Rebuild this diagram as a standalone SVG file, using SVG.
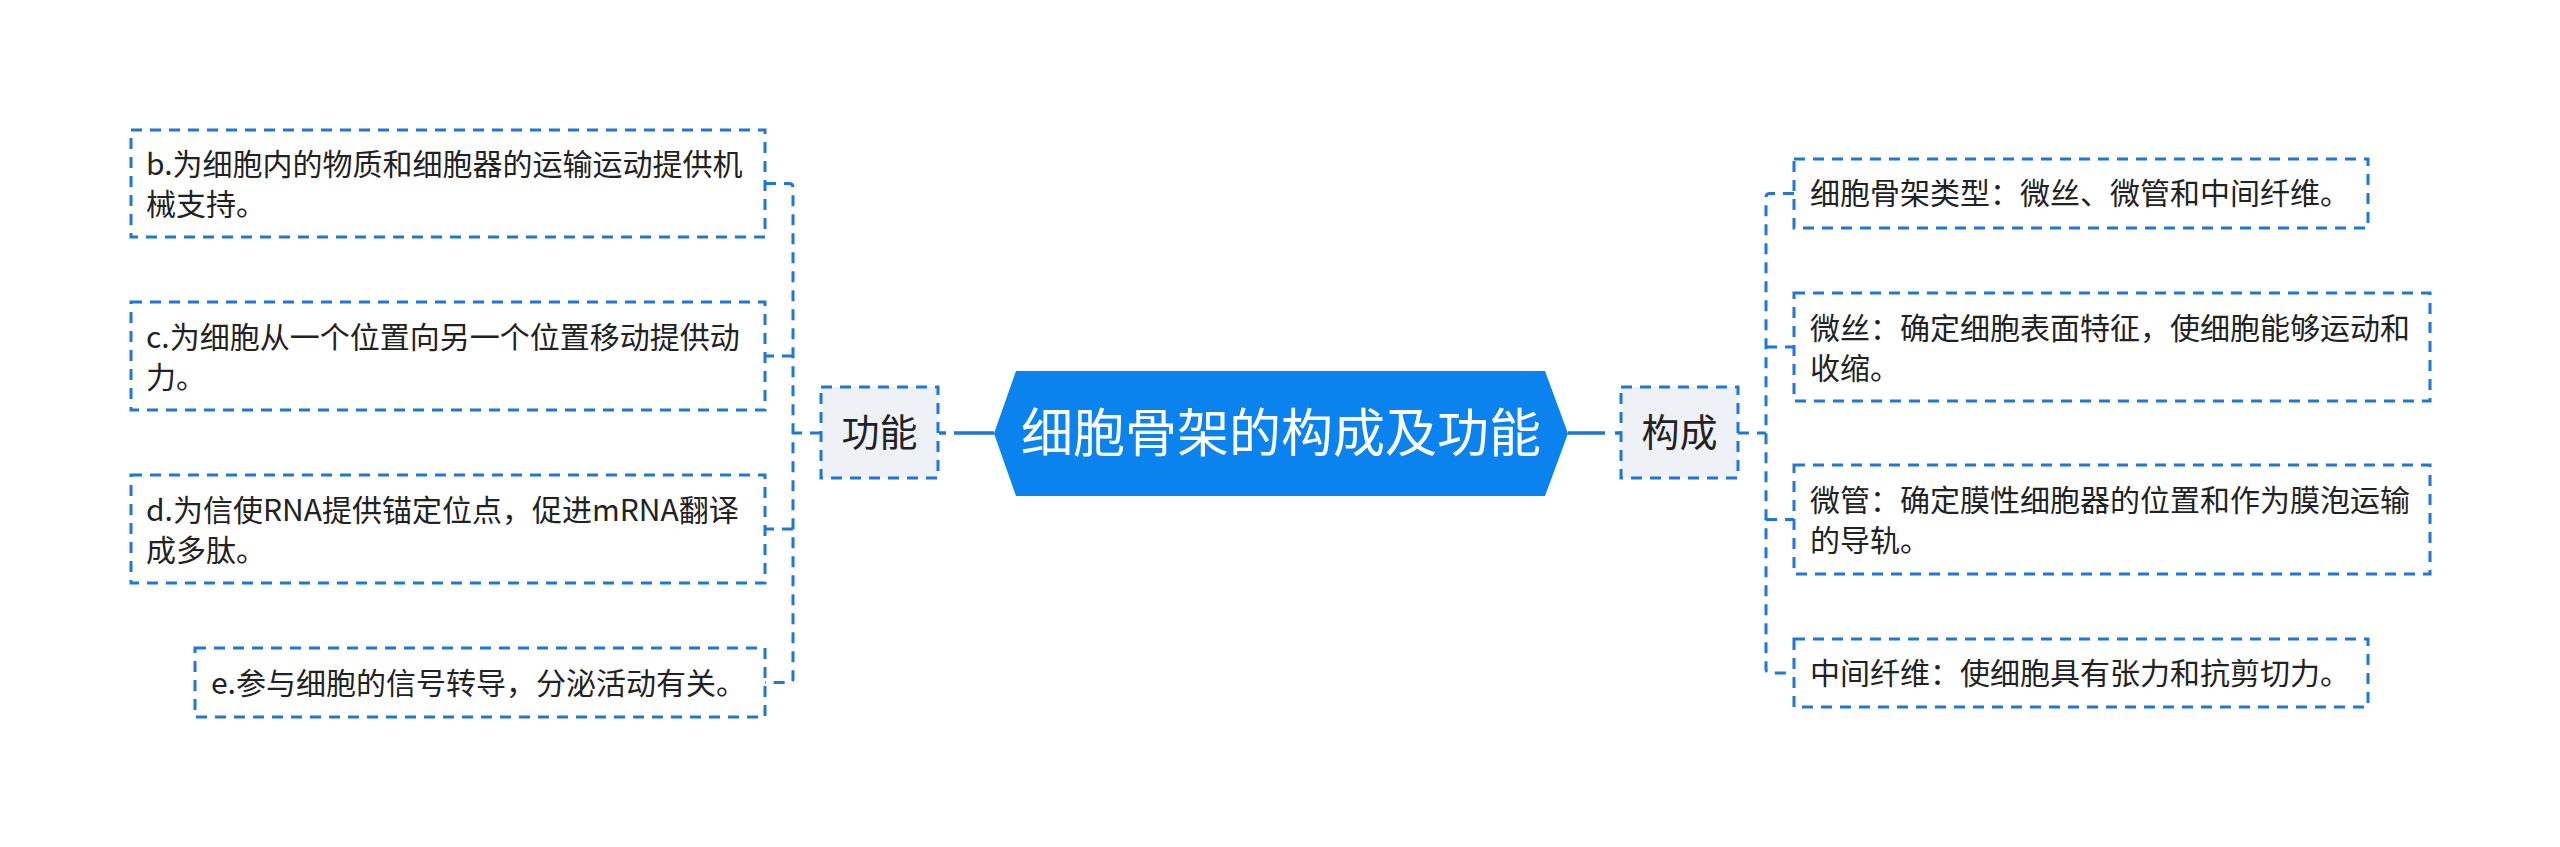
<svg xmlns="http://www.w3.org/2000/svg" width="2560" height="847" viewBox="0 0 2560 847">
<style>
.leaf{fill:#ffffff;stroke:#1f77d8;stroke-width:3;stroke-dasharray:11 8}
.hub{fill:#eef1f5;stroke:#1f77d8;stroke-width:3;stroke-dasharray:11 8}
.t{font-family:"Noto Sans CJK SC","Noto Sans",sans-serif;font-size:30px;fill:#222222}
.ht{font-family:"Noto Sans CJK SC","Noto Sans",sans-serif;font-size:38px;fill:#222222;text-anchor:middle}
.ct{font-family:"Noto Sans CJK SC","Noto Sans",sans-serif;font-size:52px;fill:#ffffff;text-anchor:middle}
.dl{fill:none;stroke:#1f77d8;stroke-width:3;stroke-dasharray:11 8}
.sl{fill:none;stroke:#1f77d8;stroke-width:3.5}
</style>
<rect width="2560" height="847" fill="#ffffff"/>
<g id="connectors">
<path class="sl" d="M994 433 H938" stroke-dasharray="40 8 7 30"/>
<path class="sl" d="M1568 433 H1621" stroke-dasharray="37 10 6 30"/>
<path class="dl" d="M821 433 H793"/>
<path class="dl" d="M765 183.5 H789 Q793 183.5 793 187.5 V678.5 Q793 682.5 789 682.5 H765"/>
<path class="dl" d="M793 356 H765"/>
<path class="dl" d="M793 529 H765"/>
<path class="dl" d="M1738 433 H1766"/>
<path class="dl" d="M1794 193.5 H1770 Q1766 193.5 1766 197.5 V669 Q1766 673 1770 673 H1794"/>
<path class="dl" d="M1766 347 H1794"/>
<path class="dl" d="M1766 519.5 H1794"/>
</g>
<g id="center">
<polygon points="994,433.5 1016,371 1545,371 1568,433.5 1545,496 1016,496" fill="#0b83ee"/>
<text class="ct" x="1281" y="452">细胞骨架的构成及功能</text>
</g>
<g id="hub-gongneng">
<rect class="hub" x="821" y="387" width="117" height="91"/>
<text class="ht" x="879.5" y="446">功能</text>
</g>
<g id="hub-goucheng">
<rect class="hub" x="1621" y="387" width="117" height="91"/>
<text class="ht" x="1679.5" y="446">构成</text>
</g>
<g id="leaf-b">
<rect class="leaf" x="131" y="130" width="634" height="107"/>
<text class="t" x="146" y="175">b.为细胞内的物质和细胞器的运输运动提供机</text>
<text class="t" x="146" y="215">械支持。</text>
</g>
<g id="leaf-c">
<rect class="leaf" x="131" y="302" width="634" height="108"/>
<text class="t" x="146" y="347.5">c.为细胞从一个位置向另一个位置移动提供动</text>
<text class="t" x="146" y="387.5">力。</text>
</g>
<g id="leaf-d">
<rect class="leaf" x="131" y="475" width="634" height="108"/>
<text class="t" x="146" y="520.5">d.为信使RNA提供锚定位点，促进mRNA翻译</text>
<text class="t" x="146" y="560.5">成多肽。</text>
</g>
<g id="leaf-e">
<rect class="leaf" x="195" y="648" width="570" height="69"/>
<text class="t" x="211" y="693.5">e.参与细胞的信号转导，分泌活动有关。</text>
</g>
<g id="leaf-r1">
<rect class="leaf" x="1794" y="159" width="574" height="69"/>
<text class="t" x="1810" y="204">细胞骨架类型：微丝、微管和中间纤维。</text>
</g>
<g id="leaf-r2">
<rect class="leaf" x="1794" y="293" width="636" height="108"/>
<text class="t" x="1810" y="338.5">微丝：确定细胞表面特征，使细胞能够运动和</text>
<text class="t" x="1810" y="378.5">收缩。</text>
</g>
<g id="leaf-r3">
<rect class="leaf" x="1794" y="465" width="636" height="109"/>
<text class="t" x="1810" y="511">微管：确定膜性细胞器的位置和作为膜泡运输</text>
<text class="t" x="1810" y="551">的导轨。</text>
</g>
<g id="leaf-r4">
<rect class="leaf" x="1794" y="639" width="574" height="68"/>
<text class="t" x="1810" y="684">中间纤维：使细胞具有张力和抗剪切力。</text>
</g>
</svg>
